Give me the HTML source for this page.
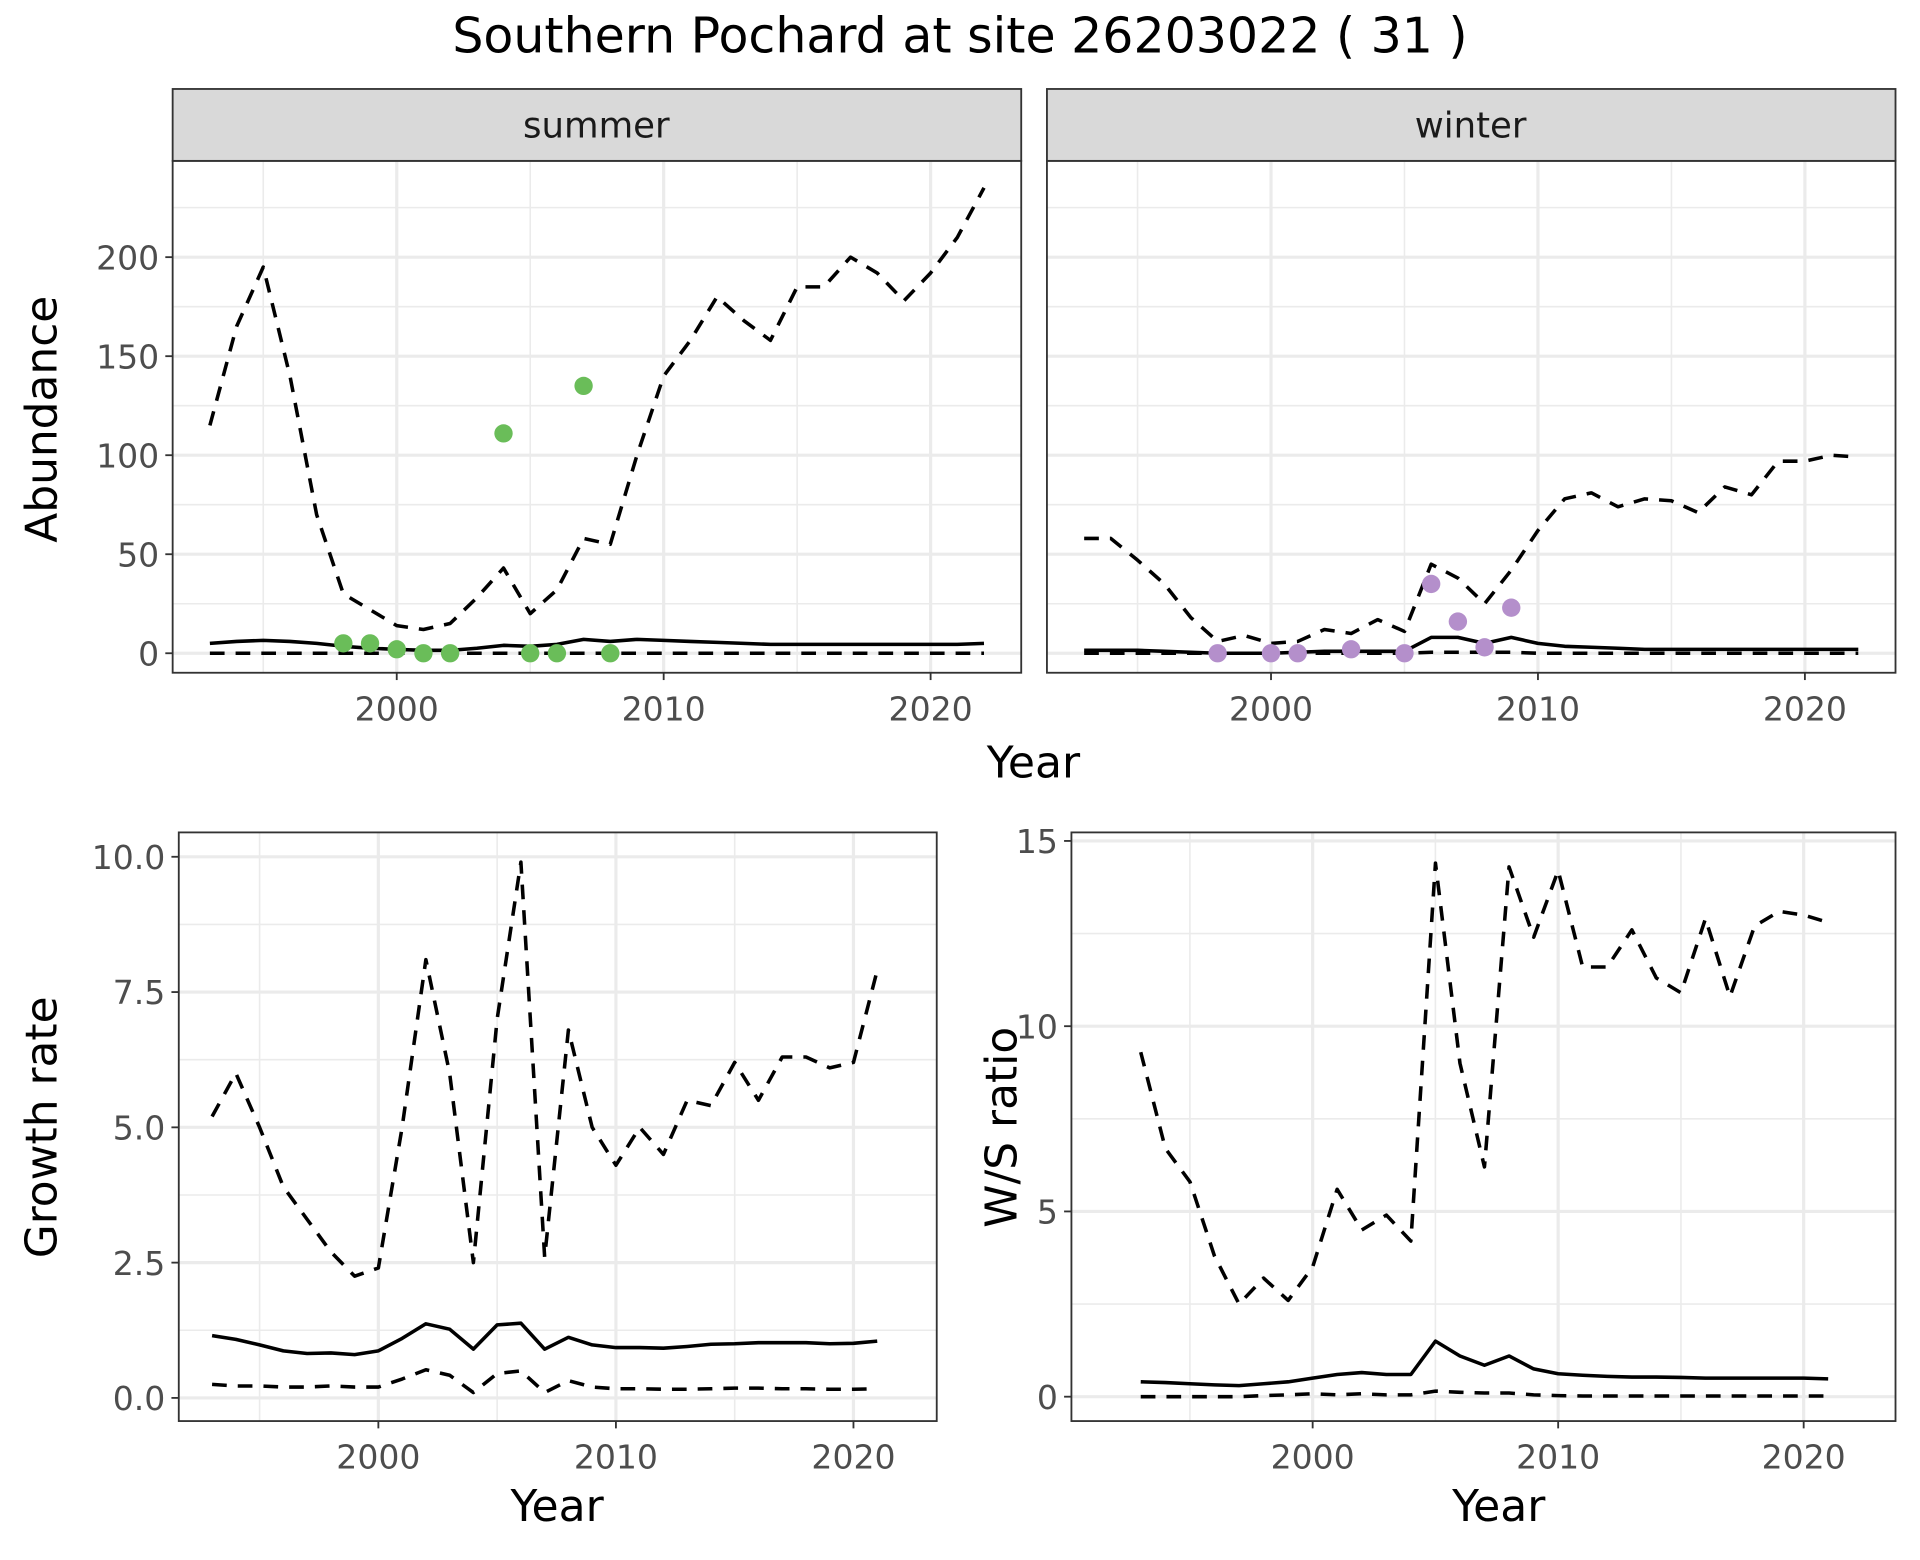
<!DOCTYPE html>
<html><head><meta charset="utf-8"><style>
html,body{margin:0;padding:0;background:#fff;}
svg{display:block;}
text{font-family:"DejaVu Sans","Liberation Sans",sans-serif;}
</style></head><body>
<svg id="s" width="1920" height="1560" viewBox="0 0 1568 1280" preserveAspectRatio="none" xmlns="http://www.w3.org/2000/svg">
<rect width="1568" height="1280" fill="#fff"/>
<text x="784" y="43" font-size="40" text-anchor="middle" fill="#000">Southern Pochard at site 26203022 ( 31 )</text>
</svg>
<script>
const S=document.getElementById('s');let h='';
const yrs=[];for(let y=1993;y<=2022;y++)yrs.push(y);
function panel(o){
 const {x0,x1,y0,y1,xa,xs,ya,ys,yt,ytl}=o;
 const X=v=>xa+(v-2000)*xs, Y=v=>ya-v*ys;
 h+=`<rect x="${x0}" y="${y0}" width="${x1-x0}" height="${y1-y0}" fill="#fff"/>`;
 for(const v of [1995,2005,2015]) h+=`<line x1="${X(v)}" x2="${X(v)}" y1="${y0}" y2="${y1}" stroke="#ebebeb" stroke-width="1.3"/>`;
 for(const v of o.ym) { if(Y(v)>y0&&Y(v)<y1) h+=`<line x1="${x0}" x2="${x1}" y1="${Y(v)}" y2="${Y(v)}" stroke="#ebebeb" stroke-width="1.3"/>`;}
 for(const v of [2000,2010,2020]) h+=`<line x1="${X(v)}" x2="${X(v)}" y1="${y0}" y2="${y1}" stroke="#ebebeb" stroke-width="2.6"/>`;
 yt.forEach(v=>{h+=`<line x1="${x0}" x2="${x1}" y1="${Y(v)}" y2="${Y(v)}" stroke="#ebebeb" stroke-width="2.6"/>`;});
 const line=(d,dash)=>{let p=d.map((v,i)=>`${i?'L':'M'}${X(1993+i).toFixed(1)},${Y(v).toFixed(1)}`).join('');
  h+=`<path d="${p}" fill="none" stroke="#000" stroke-width="2.9" ${dash?'stroke-dasharray="12 9"':''} stroke-linejoin="round"/>`;};
 o.series.forEach(s=>line(s[0],s[1]));
 (o.pts||[]).forEach(p=>{h+=`<circle cx="${X(p[0])}" cy="${Y(p[1])}" r="7.5" fill="${o.pc}"/>`;});
 h+=`<rect x="${x0}" y="${y0}" width="${x1-x0}" height="${y1-y0}" fill="none" stroke="#333" stroke-width="1.5"/>`;
 if(o.ylab){yt.forEach((v,i)=>{h+=`<line x1="${x0-6}" x2="${x0}" y1="${Y(v)}" y2="${Y(v)}" stroke="#333" stroke-width="1.5"/><text x="${x0-11}" y="${Y(v)+10}" font-size="27" text-anchor="end" fill="#4d4d4d">${ytl[i]}</text>`;});}
 [2000,2010,2020].forEach(v=>{h+=`<line x1="${X(v)}" x2="${X(v)}" y1="${y1}" y2="${y1+6}" stroke="#333" stroke-width="1.5"/><text x="${X(v)}" y="${y1+39}" font-size="27" text-anchor="middle" fill="#4d4d4d">${v}</text>`;});
}
const sumU=[115,165,195,140,70,30,22,14,12,15,28,43,20,32,58,55,100,140,158,180,168,158,185,185,200,192,178,192,210,235];
const sumM=[5,6,6.5,6,5,3.5,2.5,2,1.5,1.5,2.5,4,3.5,4.5,7,6,7,6.5,6,5.5,5,4.5,4.5,4.5,4.5,4.5,4.5,4.5,4.5,5];
const zero=yrs.map(()=>0);
const winU=[58,58,47,35,18,6,9,5,6,12,10,17,11,45,38,25,42,62,78,81,74,78,77,71,84,80,97,97,100,99];
const winM=[1.5,1.5,1.5,1,0.5,0,0,0,0.5,1,1,1,1,8,8,5,8,5,3.5,3,2.5,2,2,2,2,2,2,2,2,2];
const winL=[0,0,0,0,0,0,0,0,0,0,0,0,0,0.5,0.5,0.5,0.5,0,0,0,0,0,0,0,0,0,0,0,0,0];
panel({x0:141,x1:834,y0:132,y1:552,xa:324,xs:21.8,ya:536,ys:1.625,yt:[0,50,100,150,200],ytl:[0,50,100,150,200],ym:[25,75,125,175,225],ylab:true,
 series:[[sumU,1],[sumM,0],[zero,1]],pc:"#6abd59",pts:[[1998,5],[1999,5],[2000,2],[2001,0],[2002,0],[2004,111],[2005,0],[2006,0],[2007,135],[2008,0]]});
panel({x0:855,x1:1548,y0:132,y1:552,xa:1038,xs:21.8,ya:536,ys:1.625,yt:[0,50,100,150,200],ytl:[0,50,100,150,200],ym:[25,75,125,175,225],ylab:false,
 series:[[winU,1],[winM,0],[winL,1]],pc:"#b48fcb",pts:[[1998,0],[2000,0],[2001,0],[2003,2],[2005,0],[2006,35],[2007,16],[2008,3],[2009,23]]});
h+=`<rect x="141" y="73" width="693" height="59" fill="#d9d9d9" stroke="#333" stroke-width="1.5"/><text x="487" y="113" font-size="29" text-anchor="middle" fill="#1a1a1a">summer</text>`;
h+=`<rect x="855" y="73" width="693" height="59" fill="#d9d9d9" stroke="#333" stroke-width="1.5"/><text x="1201" y="113" font-size="29" text-anchor="middle" fill="#1a1a1a">winter</text>`;
h+=`<text x="844" y="638" font-size="36" text-anchor="middle">Year</text>`;
h+=`<text transform="translate(46,344) rotate(-90)" font-size="36" text-anchor="middle">Abundance</text>`;
const gU=[5.2,6.0,5.0,3.9,3.3,2.7,2.25,2.4,5.0,8.1,6.0,2.5,7.0,9.9,2.6,6.8,5.0,4.3,5.0,4.5,5.5,5.4,6.2,5.5,6.3,6.3,6.1,6.2,7.9];
const gM=[1.15,1.08,0.98,0.87,0.82,0.83,0.80,0.87,1.1,1.37,1.27,0.9,1.35,1.38,0.9,1.12,0.98,0.93,0.93,0.92,0.95,0.99,1.0,1.02,1.02,1.02,1.0,1.01,1.05];
const gL=[0.25,0.22,0.22,0.2,0.2,0.22,0.2,0.2,0.35,0.52,0.42,0.1,0.45,0.5,0.1,0.32,0.2,0.17,0.17,0.16,0.16,0.17,0.18,0.18,0.17,0.17,0.16,0.16,0.17];
panel({x0:146,x1:765,y0:683,y1:1166,xa:309,xs:19.4,ya:1147,ys:44.4,yt:[0,2.5,5,7.5,10],ytl:["0.0","2.5","5.0","7.5","10.0"],ym:[1.25,3.75,6.25,8.75],ylab:true,
 series:[[gU,1],[gM,0],[gL,1]]});
h+=`<text x="455" y="1248" font-size="36" text-anchor="middle">Year</text>`;
h+=`<text transform="translate(46,925) rotate(-90)" font-size="36" text-anchor="middle">Growth rate</text>`;
const wU=[9.3,6.7,5.8,3.8,2.5,3.2,2.6,3.5,5.6,4.5,4.9,4.2,14.4,9.0,6.2,14.3,12.4,14.2,11.6,11.6,12.6,11.3,10.9,12.9,10.8,12.7,13.1,13.0,12.8];
const wM=[0.4,0.38,0.35,0.32,0.3,0.35,0.4,0.5,0.6,0.65,0.6,0.6,1.5,1.1,0.85,1.1,0.75,0.62,0.58,0.55,0.53,0.53,0.52,0.5,0.5,0.5,0.5,0.5,0.48];
const wL=[0,0,0,0,0,0.03,0.05,0.08,0.05,0.08,0.05,0.05,0.15,0.12,0.1,0.1,0.05,0.03,0.02,0.02,0.02,0.02,0.02,0.02,0.02,0.02,0.02,0.02,0.02];
panel({x0:875,x1:1548,y0:683,y1:1166,xa:1072,xs:20.05,ya:1146,ys:30.4,yt:[0,5,10,15],ytl:["0","5","10","15"],ym:[2.5,7.5,12.5],ylab:true,
 series:[[wU,1],[wM,0],[wL,1]]});
h+=`<text x="1224" y="1248" font-size="36" text-anchor="middle">Year</text>`;
h+=`<text transform="translate(830,925) rotate(-90)" font-size="36" text-anchor="middle">W/S ratio</text>`;
S.insertAdjacentHTML('beforeend',h);
</script>
</body></html>
